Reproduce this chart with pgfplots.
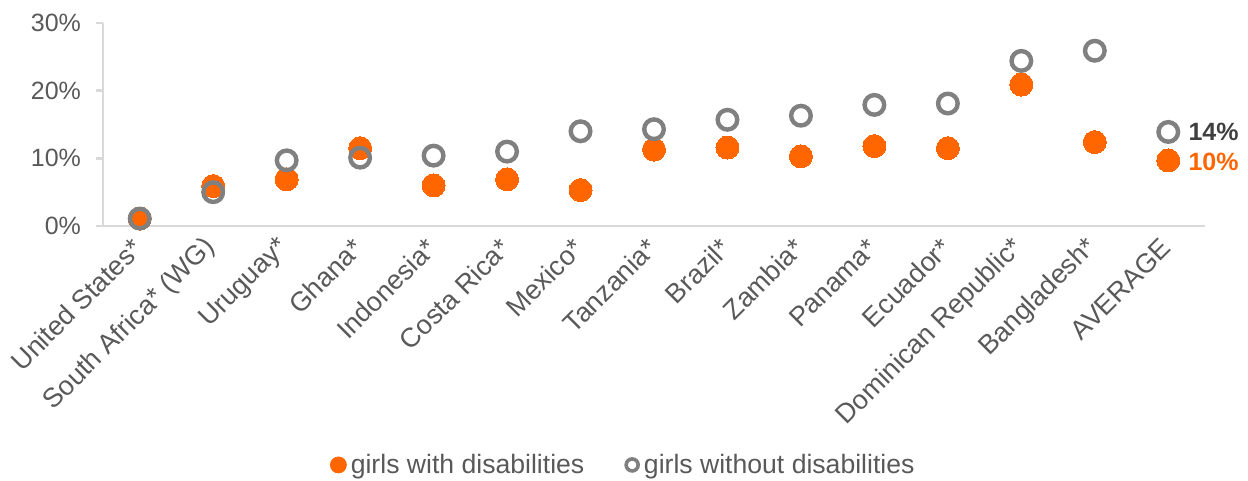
\documentclass[border=0pt]{standalone}
\usepackage{pgfplots}
\pgfplotsset{compat=1.18}
\usepackage{fontspec}
\setmainfont{Liberation Sans}
\usetikzlibrary{calc}
\definecolor{myorange}{HTML}{FF6600}
\definecolor{mygrey}{HTML}{808080}
\definecolor{txtgrey}{HTML}{595959}
\definecolor{axgrey}{HTML}{D9D9D9}
\definecolor{darkgrey}{HTML}{404040}
\begin{document}
\begin{tikzpicture}
\begin{axis}[
  scale only axis, width=551pt, height=101.5pt,
  xmin=-0.5, xmax=14.5, ymin=0, ymax=30,
  axis x line*=bottom, axis y line*=left,
  axis line style={axgrey, line width=1.2pt},
  xtick={0,...,14},
  xticklabels={United States*, South Africa* (WG), Uruguay*, Ghana*, Indonesia*, Costa Rica*, Mexico*, Tanzania*, Brazil*, Zambia*, Panama*, Ecuador*, Dominican Republic*, Bangladesh*, AVERAGE},
  major x tick style={draw=none},
  ytick={0,10,20,30},
  tick style={axgrey, line width=1.2pt},
  tick align=outside, major tick length=3.5pt,
  yticklabel={\pgfmathprintnumber{\tick}\%},
  /pgf/number format/assume math mode=true,
  y tick label style={font=\fontsize{12.5}{14}\selectfont, text=txtgrey, xshift=-4pt},
  x tick label style={font=\fontsize{13.5}{15}\selectfont, text=txtgrey, rotate=45, anchor=east, yshift=-3pt, xshift=-1pt},
  clip=false,
  legend style={at={(0.473,-1.177)}, anchor=center, draw=none, fill=none,
    legend columns=2, font=\fontsize{13.3}{15}\selectfont, text=txtgrey,
    /tikz/every even column/.append style={column sep=18pt}},
  legend cell align=left,
]
\addplot[myorange, only marks, mark=*, mark size=5.75pt, mark options={fill=myorange, draw=myorange, line width=0pt},
  legend image code/.code={\fill[myorange] (0.45em,0) circle (4pt);}]
  coordinates {(0,1.1) (1,5.9) (2,6.9) (3,11.5) (4,6.0) (5,6.9) (6,5.3) (7,11.3) (8,11.6) (9,10.3) (10,11.8) (11,11.5) (12,20.9) (13,12.4) (14,9.7)};
\addlegendentry{girls with disabilities}
\addplot[mygrey, only marks, mark=o, mark size=4.9pt, mark options={draw=mygrey, line width=2.2pt, fill=none},
  legend image code/.code={\draw[mygrey, line width=1.8pt] (0.45em,0) circle (3pt);}]
  coordinates {(0,1.1) (1,5.0) (2,9.7) (3,10.1) (4,10.4) (5,11.0) (6,14.0) (7,14.3) (8,15.7) (9,16.3) (10,17.9) (11,18.1) (12,24.4) (13,25.9) (14,13.9)};
\addlegendentry{girls without disabilities}
\node[anchor=west, text=darkgrey, font=\fontsize{12.5}{14}\selectfont\bfseries, inner sep=0pt] at (axis cs:14.27,13.9) {14\%};
\node[anchor=west, text=myorange, font=\fontsize{12.5}{14}\selectfont\bfseries, inner sep=0pt] at (axis cs:14.27,9.5) {10\%};
\end{axis}
\pgfresetboundingbox
\path ($(current axis.south west)+(-51.5pt,-127.5pt)$) rectangle ($(current axis.north east)+(21.5pt,11.5pt)$);
\end{tikzpicture}
\end{document}
